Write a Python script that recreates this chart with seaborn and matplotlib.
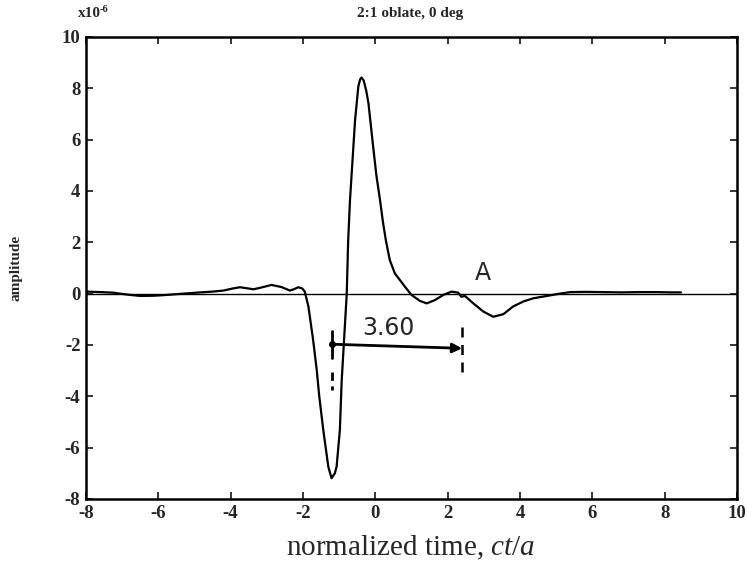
import matplotlib
matplotlib.use("Agg")
import matplotlib.pyplot as plt
import seaborn as sns
import pandas as pd

# ---- data (amplitude in units of 1e-6) ----
time_ct_a = [-8.0, -7.6, -7.25, -6.9, -6.5, -6.1, -5.77, -5.4, -4.94, -4.5, -4.2,
             -3.95, -3.74, -3.55, -3.37, -3.15, -2.87, -2.6, -2.36, -2.24, -2.13,
             -2.02, -1.95, -1.85, -1.72, -1.62, -1.55, -1.44, -1.3, -1.21, -1.12,
             -1.07, -0.98, -0.93, -0.86, -0.79, -0.75, -0.70, -0.63, -0.56, -0.47,
             -0.42, -0.38, -0.32, -0.25, -0.19, -0.06, 0.03, 0.13, 0.21, 0.29,
             0.40, 0.54, 0.68, 0.82, 1.0, 1.23, 1.42, 1.65, 1.88, 2.11, 2.29,
             2.38, 2.48, 2.71, 2.99, 3.26, 3.54, 3.81, 4.1, 4.37, 4.74, 5.1, 5.38,
             5.8, 6.3, 6.8, 7.3, 7.8, 8.2, 8.45]
amplitude = [0.08, 0.06, 0.04, -0.03, -0.09, -0.08, -0.05, -0.01, 0.04, 0.08, 0.12,
             0.20, 0.25, 0.21, 0.17, 0.24, 0.34, 0.26, 0.12, 0.18, 0.25,
             0.20, 0.08, -0.5, -1.8, -2.97, -4.0, -5.3, -6.74, -7.19, -7.0,
             -6.74, -5.3, -3.4, -1.7, 0.0, 2.09, 3.65, 5.2, 6.76, 8.07,
             8.35, 8.42, 8.3, 7.9, 7.42, 5.73, 4.6, 3.65, 2.8, 2.09,
             1.31, 0.79, 0.53, 0.27, -0.05, -0.28, -0.38, -0.25, -0.05, 0.08, 0.04,
             -0.12, -0.09, -0.38, -0.7, -0.9, -0.8, -0.5, -0.3, -0.18, -0.09, 0.0, 0.06,
             0.07, 0.06, 0.05, 0.06, 0.06, 0.05, 0.05]

xticks = [-8, -6, -4, -2, 0, 2, 4, 6, 8, 10]
xtick_labels = ['-8', '-6', '-4', '-2', '0', '2', '4', '6', '8', '10']
yticks = [-8, -6, -4, -2, 0, 2, 4, 6, 8, 10]
ytick_labels = ['-8', '-6', '-4', '-2', '0', '2', '4', '6', '8', '10']

title_text = "2:1 oblate, 0 deg"
ylabel_text = "amplitude"
xlabel_text = "normalized time, $\\it{ct/a}$"
scale_base = "x10"
scale_exp = "-6"

marker_left = -1.2
marker_right = 2.4
interval_label = "3.60"
arrival_label = "A"

# ---- style ----
sns.set_style("ticks")
plt.rcParams['font.family'] = ['Liberation Serif', 'DejaVu Serif']
plt.rcParams['mathtext.fontset'] = 'custom'
plt.rcParams['mathtext.rm'] = 'Liberation Serif'
plt.rcParams['mathtext.it'] = 'Liberation Serif:italic'

df = pd.DataFrame({"t": time_ct_a, "amp": amplitude})

fig = plt.figure(figsize=(7.47, 5.78), dpi=100)
ax = fig.add_axes([0.1151, 0.1367, 0.8715, 0.7993])

sns.lineplot(data=df, x="t", y="amp", ax=ax, color="black", linewidth=1.6,
             sort=False, estimator=None)
ax.axhline(0, color="black", linewidth=1.0)

ax.set_xlim(-8, 10)
ax.set_ylim(-8, 10)
ax.set_xticks(xticks)
ax.set_xticklabels(xtick_labels, fontweight='bold', fontsize=13.5)
ax.set_yticks(yticks)
ax.set_yticklabels(ytick_labels, fontweight='bold', fontsize=13.5)
ax.tick_params(direction='in', top=True, right=True, length=5, width=1.3, pad=4)
for s in ax.spines.values():
    s.set_visible(True)
    s.set_linewidth(1.8)
    s.set_color("black")
ax.set_xlabel("")
ax.set_ylabel("")

# ---- annotations (hand-drawn interval) ----
ax.plot([marker_left, marker_left], [-1.47, -2.5], color="black", linewidth=2.0)
ax.plot([marker_left, marker_left], [-3.05, -3.75], color="black", linewidth=2.0,
        linestyle=(0, (3, 2)))
ax.plot([marker_right, marker_right], [-1.29, -3.28], color="black", linewidth=1.8,
        linestyle=(0, (4, 3)))
ax.annotate("", xy=(marker_right, -2.13), xytext=(marker_left, -1.97),
            arrowprops=dict(arrowstyle="-|>", color="black", linewidth=2.0,
                            mutation_scale=14, shrinkA=0, shrinkB=0))
ax.plot([marker_left], [-1.97], marker="o", markersize=4, color="black")
ax.text(0.36, -1.35, interval_label, fontsize=17, ha="center", va="center",
        family=["DejaVu Sans"])
ax.text(2.98, 0.81, arrival_label, fontsize=17, ha="center", va="center",
        family=["DejaVu Sans"])

# ---- text ----
fig.text(0.549, 0.9775, title_text, ha="center", va="center", fontsize=11,
         fontweight="bold")
fig.text(0.104, 0.9775, scale_base, ha="left", va="center", fontsize=11,
         fontweight="bold")
fig.text(0.134, 0.984, scale_exp, ha="left", va="center", fontsize=7.5,
         fontweight="bold")
fig.text(0.022, 0.536, ylabel_text, rotation=90, ha="center", va="center",
         fontsize=11, fontweight="bold")
fig.text(0.549, 0.052, xlabel_text, ha="center", va="center", fontsize=21)

fig.savefig("out.png", dpi=100)
